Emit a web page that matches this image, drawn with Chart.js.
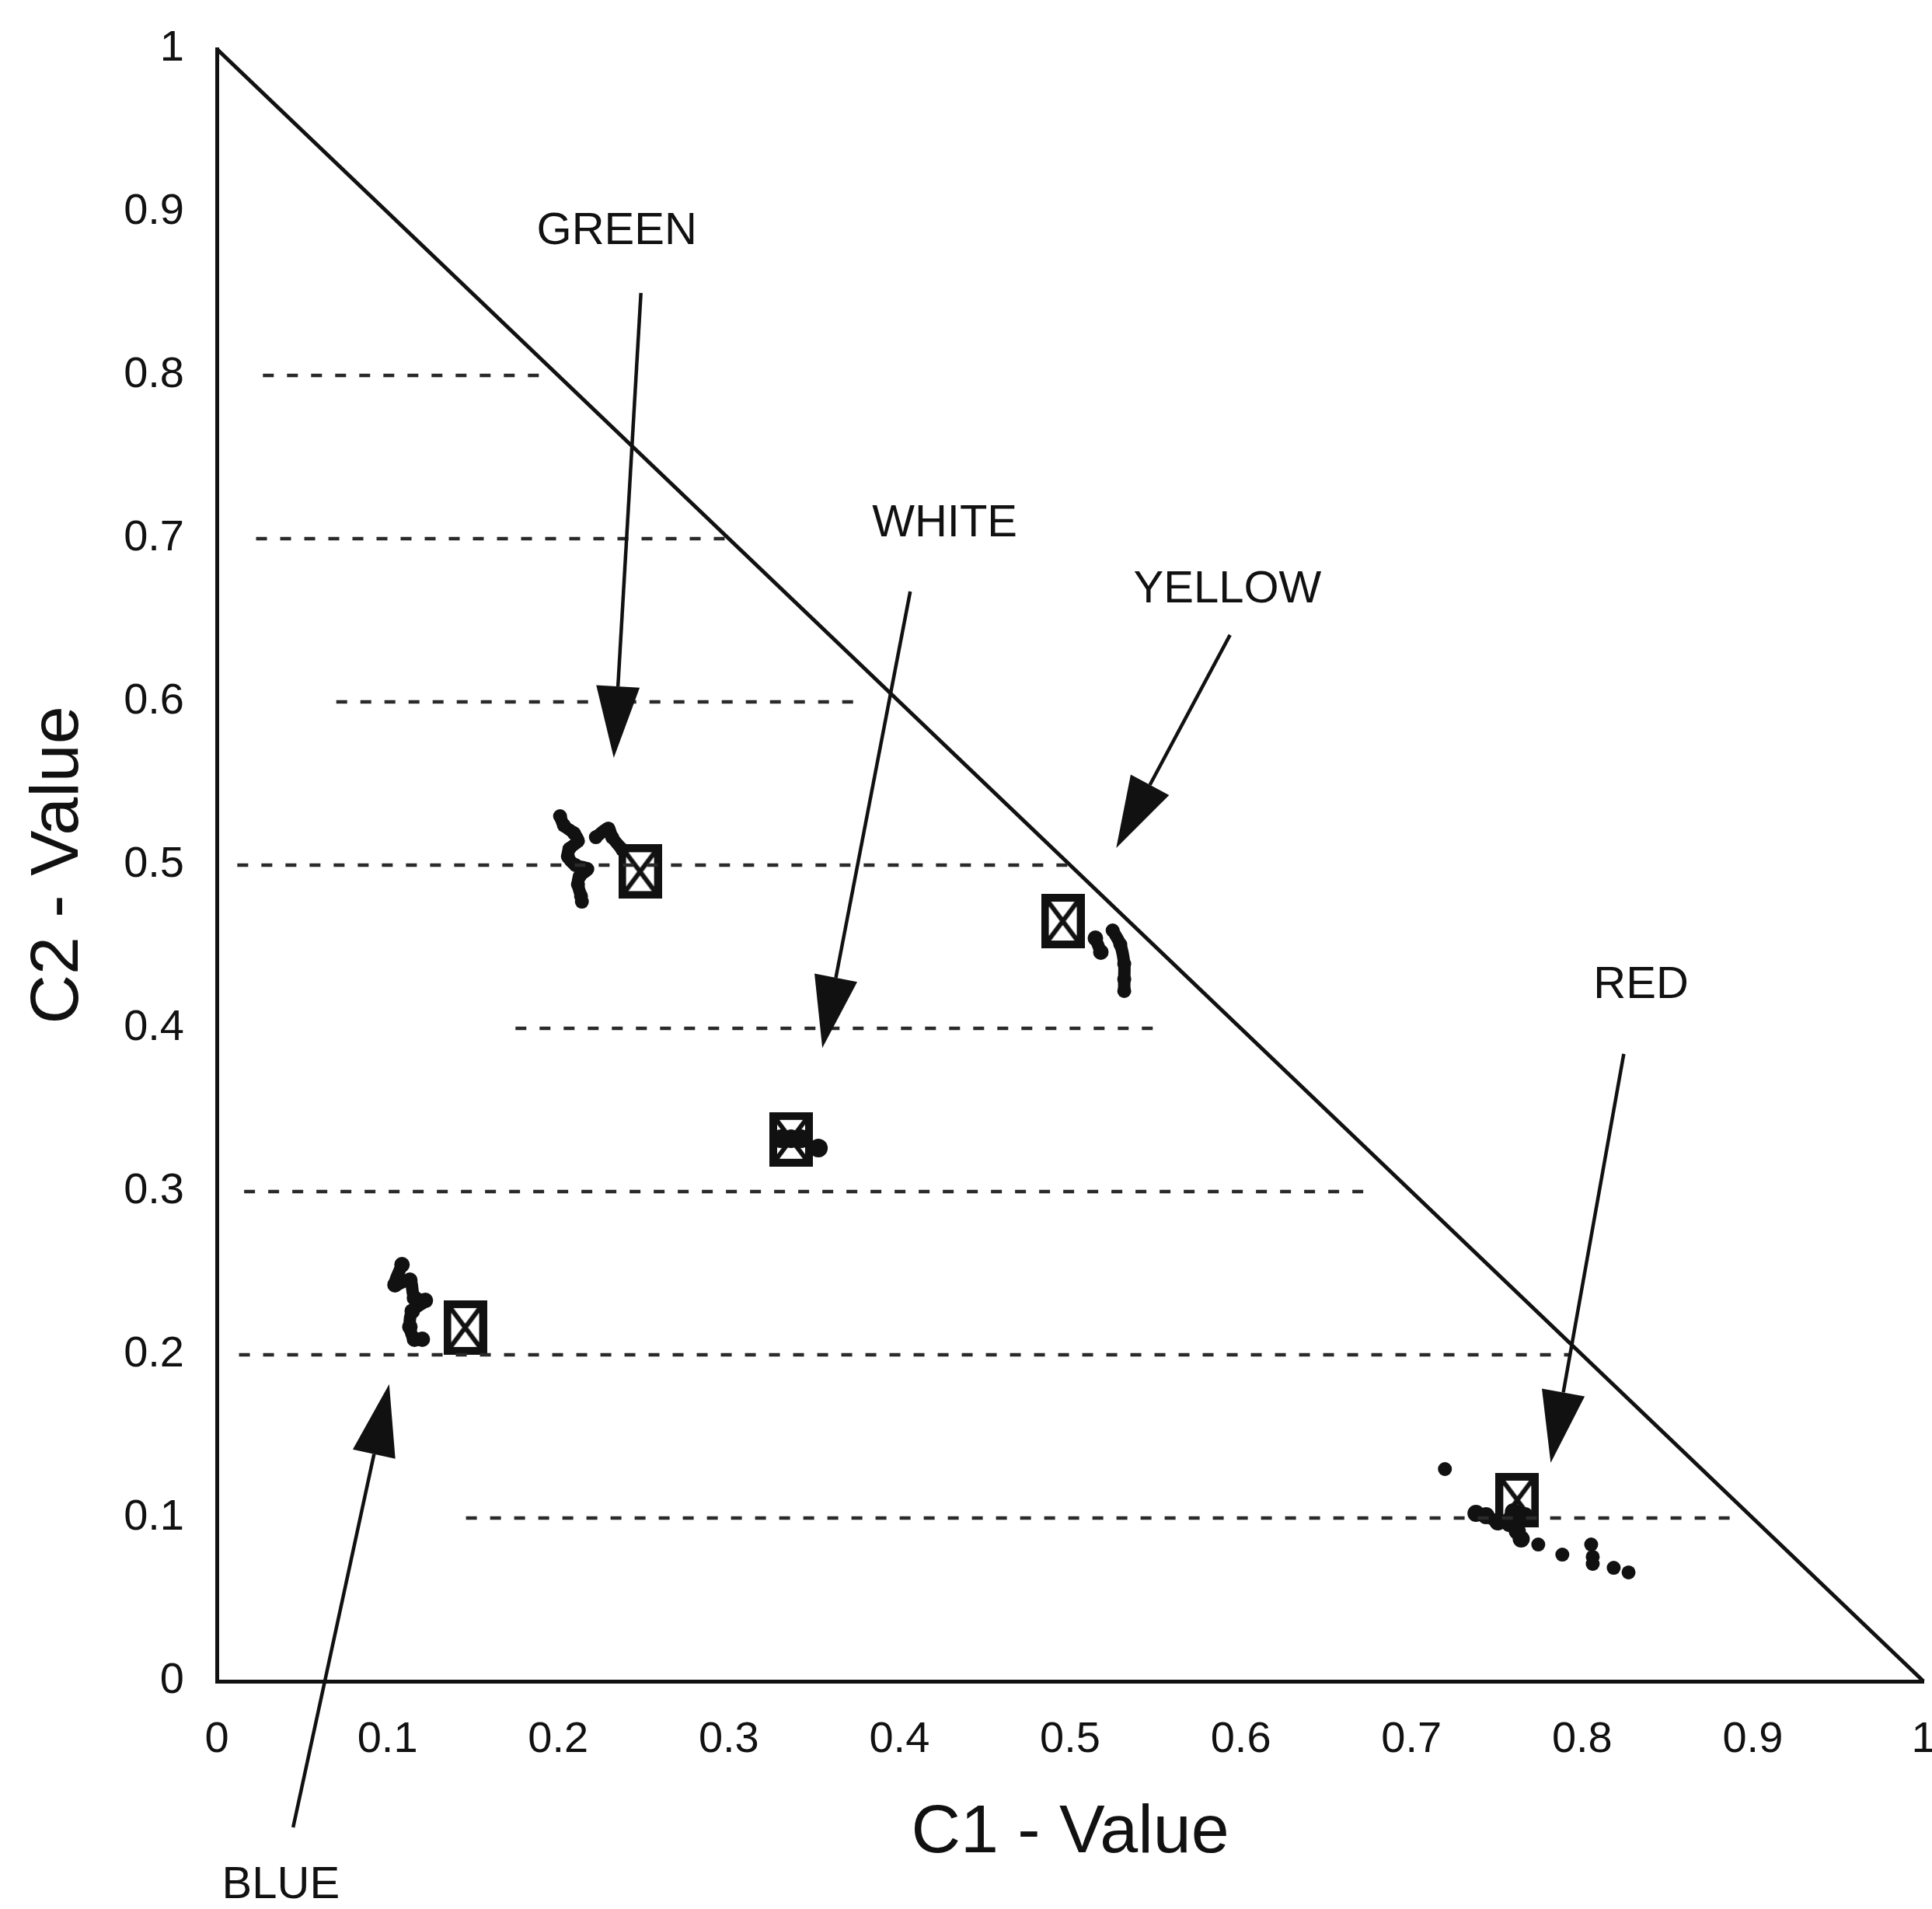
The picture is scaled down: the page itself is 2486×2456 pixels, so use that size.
<!DOCTYPE html>
<html>
<head>
<meta charset="utf-8">
<title>C1 - C2 Value</title>
<script src="https://cdn.jsdelivr.net/npm/chart.js@4.4.1/dist/chart.umd.min.js"></script>
<style>
  html, body { margin: 0; padding: 0; background: #fff; }
  #chart { display: block; }
</style>
</head>
<body>
<canvas id="chart" width="2486" height="2456"></canvas>
<script>
const INK = '#111';
const FONT = '"Liberation Sans", Arial, Helvetica, sans-serif';

const xTickLabels = ['0', '0.1', '0.2', '0.3', '0.4', '0.5', '0.6', '0.7', '0.8', '0.9', '1'];
const yTickLabels = ['0', '0.1', '0.2', '0.3', '0.4', '0.5', '0.6', '0.7', '0.8', '0.9', '1'];

// partial dashed reference lines: level, start C1, end C1
const gridLevels = [0.1, 0.2, 0.3, 0.4, 0.5, 0.6, 0.7, 0.8];
const gridStarts = [0.146, 0.013, 0.016, 0.175, 0.012, 0.07, 0.023, 0.027];
const gridEnds   = [0.894, 0.793, 0.679, 0.552, 0.5, 0.375, 0.299, 0.195];

// standard colours (boxed cross markers)
const colorNames = ['GREEN', 'WHITE', 'YELLOW', 'RED', 'BLUE'];
const refC1 = [0.248, 0.3365, 0.4957, 0.762, 0.1455];
const refC2 = [0.496, 0.332, 0.4657, 0.111, 0.2167];

// measured values
const greenC1 = [0.2011, 0.2034, 0.2093, 0.2116, 0.2066, 0.2057, 0.2102, 0.2171, 0.2125, 0.2116, 0.2134, 0.2139];
const greenC2 = [0.530, 0.5243, 0.5195, 0.5148, 0.510, 0.5052, 0.500, 0.4976, 0.4929, 0.4881, 0.481, 0.4776];
const greenTailC1 = [0.2221, 0.2294, 0.2316, 0.2376];
const greenTailC2 = [0.5171, 0.5224, 0.5171, 0.5095];

const yellowC1 = [0.5148, 0.518];
const yellowC2 = [0.4552, 0.4467];
const yellowTailC1 = [0.5249, 0.5294, 0.5317, 0.5317, 0.5317];
const yellowTailC2 = [0.460, 0.4514, 0.4395, 0.430, 0.4229];

const whiteC1 = [0.3305, 0.3365, 0.3425, 0.3525];
const whiteC2 = [0.3324, 0.3324, 0.3324, 0.3267];

const blueC1 = [0.1085, 0.1044, 0.1131, 0.1158, 0.1222, 0.1145, 0.1131, 0.1158, 0.1204];
const blueC2 = [0.2552, 0.2429, 0.2457, 0.2348, 0.2333, 0.2267, 0.2171, 0.2095, 0.2095];

const redC1 = [0.7378, 0.7437, 0.7506, 0.7574, 0.762, 0.7643, 0.7597, 0.7665];
const redC2 = [0.1029, 0.1014, 0.0976, 0.0967, 0.0919, 0.0871, 0.1038, 0.1014];
const redDotsC1 = [0.7196, 0.7743, 0.7884, 0.8053, 0.8062, 0.8062, 0.8185, 0.8272];
const redDotsC2 = [0.130, 0.0838, 0.0776, 0.0838, 0.0762, 0.0719, 0.0695, 0.0667];

// annotation arrows and labels, in C1/C2 units
const arrowTailC1 = [0.2485, 0.4063, 0.5937, 0.8244, 0.0447];
const arrowTailC2 = [0.8505, 0.6676, 0.641, 0.3843, -0.0895];
const arrowTipC1 = [0.2326, 0.3548, 0.527, 0.7816, 0.101];
const arrowTipC2 = [0.5657, 0.388, 0.5105, 0.1338, 0.182];
const labelC1 = [0.2344, 0.4265, 0.5922, 0.8345, 0.0375];
const labelC2 = [0.888, 0.709, 0.6686, 0.426, -0.125];

function toPoints(xs, ys) {
    return xs.map((v, i) => ({ x: v, y: ys[i] }));
}

function makeMarker() {
    const c = document.createElement('canvas');
    c.width = 56;
    c.height = 70;
    const g = c.getContext('2d');
    g.strokeStyle = INK;
    g.lineWidth = 6;
    g.beginPath();
    g.moveTo(7, 7); g.lineTo(49, 63);
    g.moveTo(49, 7); g.lineTo(7, 63);
    g.stroke();
    g.lineWidth = 10;
    g.strokeRect(5, 5, 46, 60);
    return c;
}

function blob(xs, ys, radius, joined) {
    return {
        data: toPoints(xs, ys),
        showLine: joined,
        borderColor: INK,
        borderWidth: joined ? 16 : 0,
        backgroundColor: INK,
        pointBorderWidth: 0,
        pointRadius: radius,
        tension: 0.3
    };
}

function drawArrow(ctx, x0, y0, x1, y1) {
    const ang = Math.atan2(y1 - y0, x1 - x0);
    const len = 92, half = 28;
    const bx = x1 - Math.cos(ang) * len;
    const by = y1 - Math.sin(ang) * len;
    ctx.lineWidth = 4.5;
    ctx.beginPath();
    ctx.moveTo(x0, y0);
    ctx.lineTo(bx, by);
    ctx.stroke();
    ctx.beginPath();
    ctx.moveTo(x1, y1);
    ctx.lineTo(bx + Math.sin(ang) * half, by - Math.cos(ang) * half);
    ctx.lineTo(bx - Math.sin(ang) * half, by + Math.cos(ang) * half);
    ctx.closePath();
    ctx.fill();
}

const annotations = {
    id: 'annotations',
    afterDatasetsDraw(chart) {
        const { ctx, scales: { x, y } } = chart;
        ctx.save();
        ctx.strokeStyle = INK;
        ctx.fillStyle = INK;
        ctx.font = '58px ' + FONT;
        ctx.textAlign = 'center';
        ctx.textBaseline = 'middle';
        colorNames.forEach((name, i) => {
            drawArrow(ctx,
                x.getPixelForValue(arrowTailC1[i]), y.getPixelForValue(arrowTailC2[i]),
                x.getPixelForValue(arrowTipC1[i]), y.getPixelForValue(arrowTipC2[i]));
            ctx.fillText(name, x.getPixelForValue(labelC1[i]), y.getPixelForValue(labelC2[i]));
        });
        ctx.restore();
    }
};

const dashed = gridLevels.map((lv, i) => ({
    data: [{ x: gridStarts[i], y: lv }, { x: gridEnds[i], y: lv }],
    showLine: true,
    borderColor: '#2a2a2a',
    borderWidth: 4.5,
    borderDash: [14, 17],
    pointRadius: 0
}));

const datasets = [
    ...dashed,
    {
        data: [{ x: 0, y: 1 }, { x: 1, y: 0 }],
        showLine: true,
        borderColor: INK,
        borderWidth: 5,
        pointRadius: 0,
        clip: false
    },
    blob(greenC1, greenC2, 9, true),
    blob(greenTailC1, greenTailC2, 9, true),
    blob(yellowC1, yellowC2, 10, true),
    blob(yellowTailC1, yellowTailC2, 9, true),
    blob(whiteC1, whiteC2, 12, false),
    blob(blueC1, blueC2, 10, true),
    blob(redC1, redC2, 11, true),
    blob(redDotsC1, redDotsC2, 9, false),
    {
        data: toPoints(refC1, refC2),
        pointStyle: makeMarker(),
        pointRadius: 30,
        showLine: false
    }
];

function noEdgePadding(s) {
    s.paddingLeft = 0;
    s.paddingRight = 0;
    s.paddingTop = 0;
    s.paddingBottom = 0;
}

const ctx = document.getElementById('chart').getContext('2d');
new Chart(ctx, {
    type: 'scatter',
    data: { datasets: datasets },
    options: {
        responsive: false,
        animation: false,
        devicePixelRatio: 1,
        layout: { autoPadding: false, padding: { top: 63, right: 11, left: 0, bottom: 0 } },
        plugins: {
            legend: { display: false },
            tooltip: { enabled: false }
        },
        scales: {
            x: {
                type: 'linear',
                min: 0,
                max: 1,
                afterFit: s => { s.height = 293; noEdgePadding(s); },
                grid: { display: false, drawTicks: false },
                border: { display: true, color: INK, width: 5 },
                ticks: {
                    stepSize: 0.1,
                    autoSkip: false,
                    maxRotation: 0,
                    padding: 42,
                    color: INK,
                    font: { size: 56, family: FONT },
                    callback: v => xTickLabels[Math.round(v * 10)]
                },
                title: {
                    display: true,
                    text: 'C1 - Value',
                    color: INK,
                    font: { size: 88, family: FONT },
                    padding: { bottom: 44 }
                }
            },
            y: {
                type: 'linear',
                min: 0,
                max: 1,
                afterFit: s => { s.width = 279; noEdgePadding(s); },
                grid: { display: false, drawTicks: false },
                border: { display: true, color: INK, width: 5 },
                ticks: {
                    stepSize: 0.1,
                    autoSkip: false,
                    padding: 42,
                    color: INK,
                    font: { size: 56, family: FONT },
                    callback: v => yTickLabels[Math.round(v * 10)]
                },
                title: {
                    display: true,
                    text: 'C2 - Value',
                    color: INK,
                    font: { size: 88, family: FONT },
                    padding: { top: 23 }
                }
            }
        }
    },
    plugins: [annotations]
});
</script>
</body>
</html>
